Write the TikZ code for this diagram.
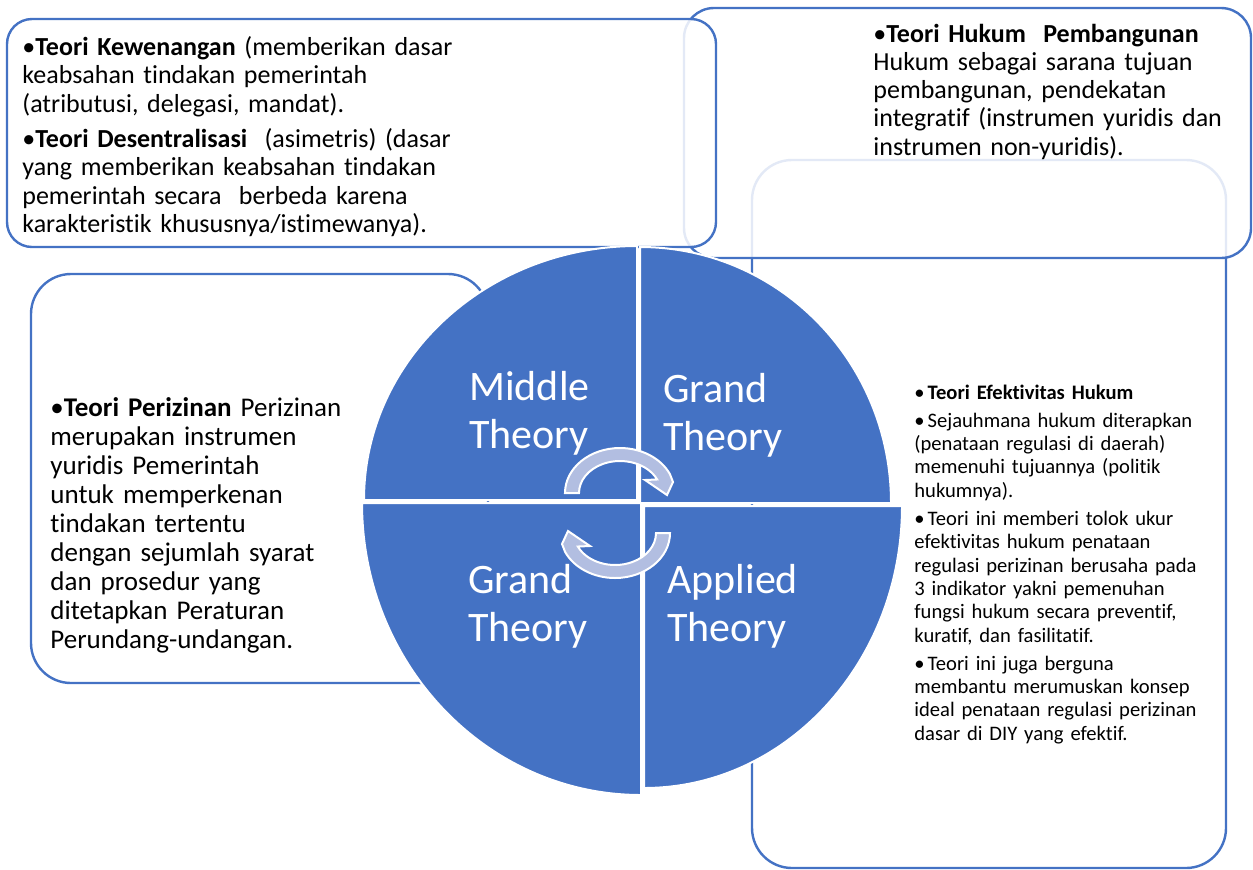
\documentclass[tikz,border=0pt]{standalone}
\usepackage{fontspec}
\setmainfont{Carlito}[Ligatures=CommonOff]
\definecolor{smartblue}{HTML}{4472C4}
\definecolor{cyclefill}{HTML}{B2BEE1}
% bullet with hanging indent for the following lines
\newcommand{\bul}[1][0pt]{\leavevmode\sbox0{•\hspace{#1}}\hangindent=\wd0\hangafter=1\usebox0}

\begin{document}
\begin{tikzpicture}[x=0.5bp, y=-0.5bp,
  box/.style={draw=smartblue, line width=1.2bp, fill=white},
  seethru/.style={fill opacity=0.85},
  quarter/.style={fill=smartblue, draw=white, line width=1bp},
  cyclearrow/.style={fill=cyclefill, draw=white, line width=1bp},
  quartertext/.style={anchor=base west, inner sep=0pt, text width=150bp, align=left,
    text=white, font=\fontsize{21bp}{24bp}\selectfont},
  boxtext/.style={anchor=base west, inner sep=0pt, text width=#1, align=left}]
  \useasboundingbox (0,0) rectangle (1253,869);

  % boxes, back to front
  \draw[box, rounded corners=20bp] (752,160) rectangle (1226,868);
  \draw[box, seethru, rounded corners=15bp] (684,8) rectangle (1251,258);
  \draw[box, seethru, rounded corners=12.5bp] (7,19) rectangle (716,247);
  \draw[box, rounded corners=20bp] (31,274) rectangle (488,683);

  % the four quarters
  \filldraw[quarter] (637,500) -- (364,500) arc[start angle=180, end angle=270, x radius=273, y radius=254] -- cycle;
  \filldraw[quarter] (640,503) -- (640,247) arc[start angle=270, end angle=360, x radius=251, y radius=256] -- cycle;
  \filldraw[quarter] (644,506) -- (902,506) arc[start angle=0, end angle=90, x radius=258, y radius=282] -- cycle;
  \filldraw[quarter] (641,503) -- (641,795) arc[start angle=90, end angle=180, x radius=279, y radius=292] -- cycle;

  % cycle arrows in the middle
  \foreach \cx/\cy/\rot in {620/493/0, 615/533/180}
    \filldraw[cyclearrow, shift={(\cx,\cy)}, rotate=\rot]
      (-55,0) arc[start angle=180, end angle=335, x radius=55, y radius=45]
      -- (53,-11) -- (47,2) -- (25,-13) -- (335:41 and 32)
      arc[start angle=335, end angle=180, x radius=41, y radius=32] -- cycle;

  \node[quartertext] (middle) at (469,400) {Middle\\Theory};
  \node[quartertext] (grandtop) at (663,402) {Grand\\Theory};
  \node[quartertext] (grandlow) at (468,593) {Grand\\Theory};
  \node[quartertext] (applied) at (667,593) {Applied\\Theory};

  % texts in the boxes
  \node[boxtext=240bp, font=\fontsize{13bp}{14.25bp}\selectfont] (kewenangan) at (22,55) {%
    \setlength{\parskip}{3.25bp}%
    \bul\textbf{Teori Kewenangan} (memberikan dasar\\
    keabsahan tindakan pemerintah\\
    (atributusi, delegasi, mandat).\par
    \bul\textbf{Teori Desentralisasi}\ \ (asimetris) (dasar\\
    yang memberikan keabsahan tindakan\\
    pemerintah secara\ \ berbeda karena\\
    karakteristik khususnya/istimewanya).};
  \node[boxtext=200bp, font=\fontsize{13bp}{14.15bp}\selectfont] (pembangunan) at (873,42) {%
    \bul\textbf{Teori Hukum\ \ Pembangunan}\\
    Hukum sebagai sarana tujuan\\
    pembangunan, pendekatan\\
    integratif (instrumen yuridis dan\\
    instrumen non-yuridis).};
  \node[boxtext=170bp, font=\fontsize{13.5bp}{14.55bp}\selectfont] (perizinan) at (50,416) {%
    \bul\textbf{Teori Perizinan} Perizinan\\
    merupakan instrumen\\
    yuridis Pemerintah\\
    untuk memperkenan\\
    tindakan tertentu\\
    dengan sejumlah syarat\\
    dan prosedur yang\\
    ditetapkan Peraturan\\
    Perundang-undangan.};
  \node[boxtext=170bp, font=\fontsize{10.3bp}{11.65bp}\selectfont] (efektivitas) at (914,399) {%
    \setlength{\parskip}{2.5bp}%
    \bul[1.5bp]\textbf{Teori Efektivitas Hukum}\par
    \bul[1.5bp]Sejauhmana hukum diterapkan\\
    (penataan regulasi di daerah)\\
    memenuhi tujuannya (politik\\
    hukumnya).\par
    \bul[1.5bp]Teori ini memberi tolok ukur\\
    efektivitas hukum penataan\\
    regulasi perizinan berusaha pada\\
    3 indikator yakni pemenuhan\\
    fungsi hukum secara preventif,\\
    kuratif, dan fasilitatif.\par
    \bul[1.5bp]Teori ini juga berguna\\
    membantu merumuskan konsep\\
    ideal penataan regulasi perizinan\\
    dasar di DIY yang efektif.};
\end{tikzpicture}
\end{document}
